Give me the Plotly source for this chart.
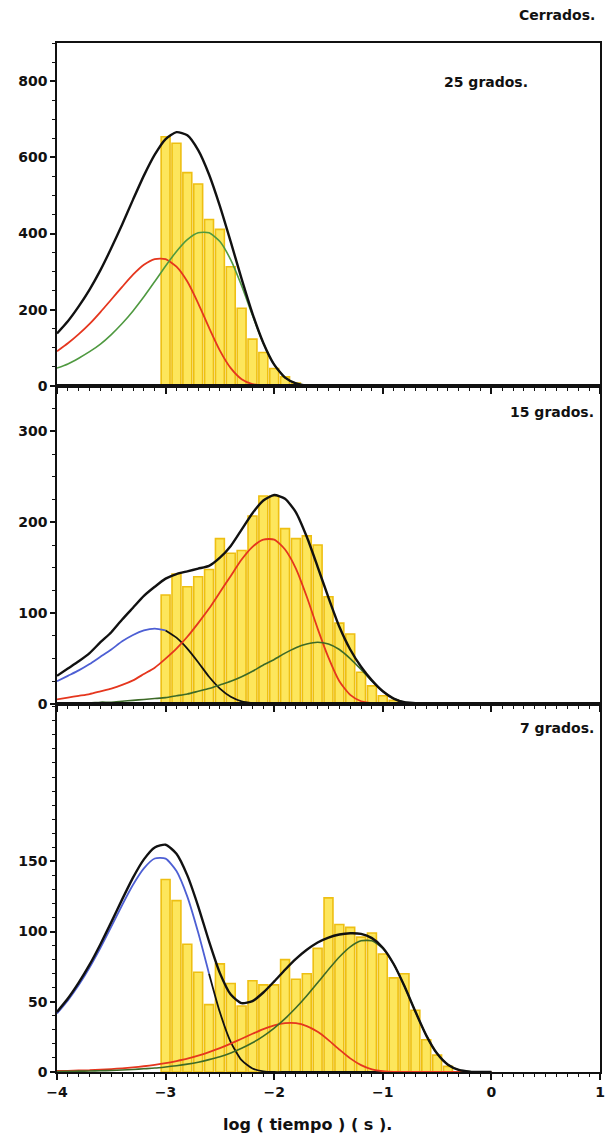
import plotly.graph_objects as go
from plotly.subplots import make_subplots

# ---------------- data ----------------
# sampling grid of the fitted curves, log10(t / s)
x_fit = [-4.0, -3.9, -3.8, -3.7, -3.6, -3.5, -3.4, -3.3, -3.2, -3.1,
         -3.0, -2.9, -2.8, -2.7, -2.6, -2.5, -2.4, -2.3, -2.2, -2.1,
         -2.0, -1.9, -1.8, -1.7, -1.6, -1.5, -1.4, -1.3, -1.2, -1.1,
         -1.0, -0.9, -0.8, -0.7, -0.6, -0.5, -0.4, -0.3, -0.2, -0.1, 0.0]

# 25 grados
bins_25 = [-3.0, -2.9, -2.8, -2.7, -2.6, -2.5, -2.4, -2.3, -2.2, -2.1, -2.0, -1.9, -1.8]
counts_25 = [654, 637, 560, 530, 437, 411, 313, 204, 123, 88, 46, 24, 8]
fit_25_a = [91, 112, 136, 163, 194, 227, 260, 292, 318, 333, 333, 313, 274, 217, 153, 93, 47, 18, 5, 1,
            0, 0, 0, 0, 0, 0, 0, 0, 0, 0, 0, 0, 0, 0, 0, 0, 0, 0, 0, 0, 0]
fit_25_b = [47, 58, 73, 90, 110, 135, 164, 197, 234, 274, 315, 353, 384, 402, 402, 379, 331, 263, 185, 112,
            56, 22, 7, 1, 0, 0, 0, 0, 0, 0, 0, 0, 0, 0, 0, 0, 0, 0, 0, 0, 0]
fit_25_total = [138, 170, 209, 253, 304, 362, 424, 489, 552, 607, 648, 666, 658, 619, 555, 472, 378, 281, 190, 113,
                56, 22, 7, 1, 0, 0, 0, 0, 0, 0, 0, 0, 0, 0, 0, 0, 0, 0, 0, 0, 0]

# 15 grados
bins_15 = [-3.0, -2.9, -2.8, -2.7, -2.6, -2.5, -2.4, -2.3, -2.2, -2.1, -2.0,
           -1.9, -1.8, -1.7, -1.6, -1.5, -1.4, -1.3, -1.2, -1.1, -1.0, -0.9]
counts_15 = [120, 143, 129, 140, 148, 182, 166, 169, 207, 229, 229,
             193, 182, 185, 175, 118, 89, 77, 35, 20, 9, 4]
fit_15_a = [25, 31, 37, 44, 52, 60, 69, 76, 81, 83, 81, 73, 61, 46, 30, 17, 8, 3, 1, 0,
            0, 0, 0, 0, 0, 0, 0, 0, 0, 0, 0, 0, 0, 0, 0, 0, 0, 0, 0, 0, 0]
fit_15_b = [5, 7, 9, 11, 14, 17, 21, 26, 33, 40, 50, 61, 74, 89, 105, 123, 141, 159, 173, 181,
            181, 170, 149, 118, 83, 51, 25, 10, 3, 1, 0, 0, 0, 0, 0, 0, 0, 0, 0, 0, 0]
fit_15_c = [1, 1, 1, 1, 2, 2, 3, 4, 5, 6, 7, 9, 11, 14, 17, 21, 25, 30, 36, 43,
            49, 56, 62, 66, 68, 66, 60, 50, 38, 25, 14, 6, 2, 1, 0, 0, 0, 0, 0, 0, 0]
fit_15_total = [31, 39, 47, 56, 68, 79, 93, 106, 119, 129, 138, 143, 146, 149, 152, 161, 174, 192, 210, 224,
                230, 226, 211, 184, 151, 117, 85, 60, 41, 26, 14, 6, 2, 1, 0, 0, 0, 0, 0, 0, 0]

# 7 grados
bins_7 = [-3.0, -2.9, -2.8, -2.7, -2.6, -2.5, -2.4, -2.3, -2.2, -2.1, -2.0, -1.9, -1.8, -1.7,
          -1.6, -1.5, -1.4, -1.3, -1.2, -1.1, -1.0, -0.9, -0.8, -0.7, -0.6, -0.5, -0.4]
counts_7 = [137, 122, 91, 71, 48, 77, 63, 47, 65, 62, 62, 80, 66, 70,
            88, 124, 105, 103, 96, 99, 84, 67, 70, 44, 23, 12, 4]
fit_7_a = [41.7, 51.0, 61.9, 74.4, 88.4, 103.5, 118.9, 133.3, 145.0, 152.0, 151.9, 143.1, 124.9, 99.3,
           70.0, 42.5, 21.3, 8.4, 2.5, 0.5, 0, 0, 0, 0, 0, 0, 0, 0, 0, 0, 0, 0, 0, 0, 0, 0, 0, 0, 0, 0, 0]
fit_7_b = [0.7, 0.8, 1.1, 1.3, 1.7, 2.1, 2.6, 3.3, 4.1, 5.1, 6.3, 7.8, 9.5, 11.7, 14.2, 17.0, 20.2,
           23.7, 27.2, 30.5, 33.2, 34.8, 34.8, 32.7, 28.6, 22.7, 16.0, 9.7, 4.9, 1.9, 0.6, 0.1,
           0, 0, 0, 0, 0, 0, 0, 0, 0]
fit_7_c = [0.4, 0.5, 0.6, 0.7, 0.9, 1.1, 1.4, 1.8, 2.3, 2.8, 3.6, 4.5, 5.6, 7.0, 8.8, 10.9, 13.6,
           16.9, 20.8, 25.6, 31.3, 38.0, 45.7, 54.3, 63.6, 73.0, 81.9, 89.1, 93.4, 93.4, 87.9,
           76.8, 61.0, 43.0, 26.1, 13.1, 5.2, 1.5, 0.3, 0, 0]
fit_7_total = [42.8, 52.3, 63.6, 76.4, 91.0, 106.7, 122.9, 138.4, 151.4, 159.9, 161.8, 155.4, 140.0,
               118.0, 93.0, 70.4, 55.1, 49.0, 50.5, 56.6, 64.5, 72.8, 80.5, 87.0, 92.2, 95.7, 97.9,
               98.8, 98.3, 95.3, 88.5, 76.9, 61.0, 43.0, 26.1, 13.1, 5.2, 1.5, 0.3, 0, 0]

x_ticks = [-4, -3, -2, -1, 0, 1]
x_ticktext = ["\u22124", "\u22123", "\u22122", "\u22121", "0", "1"]
y_ticks_25 = [0, 200, 400, 600, 800]
y_ticks_15 = [0, 100, 200, 300]
y_ticks_7 = [0, 50, 100, 150]

# ---------------- styling ----------------
BAR_FILL = "#FDE65C"
BAR_EDGE = "#EEBF12"
RED = "#E5361E"
GREEN_LIGHT = "#4F9940"
GREEN_DARK = "#3D6A27"
BLUE = "#4D5FD4"
BLACK = "#111111"
FONT = "DejaVu Sans"

fig = make_subplots(rows=3, cols=1, shared_xaxes=True, vertical_spacing=0,
                    row_heights=[343, 318, 368])


def add_bars(row, centers, counts):
    fig.add_trace(go.Bar(x=centers, y=counts, width=0.082,
                         marker=dict(color=BAR_FILL, line=dict(color=BAR_EDGE, width=1.6)),
                         hoverinfo="skip", showlegend=False), row=row, col=1)


def add_line(row, xs, ys, color, width):
    fig.add_trace(go.Scatter(x=xs, y=ys, mode="lines",
                             line=dict(color=color, width=width, shape="spline", smoothing=0.6),
                             hoverinfo="skip", showlegend=False), row=row, col=1)


def split_line(row, ys, x_split, width):
    # first component: blue up to x_split, black afterwards
    k = x_fit.index(x_split)
    add_line(row, x_fit[:k + 1], ys[:k + 1], BLUE, width)
    add_line(row, x_fit[k:], ys[k:], BLACK, width)


# 25 grados
add_bars(1, bins_25, counts_25)
add_line(1, x_fit, fit_25_a, RED, 1.8)
add_line(1, x_fit, fit_25_b, GREEN_LIGHT, 1.6)
add_line(1, x_fit, fit_25_total, BLACK, 2.4)

# 15 grados
add_bars(2, bins_15, counts_15)
split_line(2, fit_15_a, -3.0, 1.8)
add_line(2, x_fit, fit_15_b, RED, 1.8)
add_line(2, x_fit, fit_15_c, GREEN_DARK, 1.6)
add_line(2, x_fit, fit_15_total, BLACK, 2.4)

# 7 grados
add_bars(3, bins_7, counts_7)
split_line(3, fit_7_a, -2.6, 1.8)
add_line(3, x_fit, fit_7_b, RED, 1.8)
add_line(3, x_fit, fit_7_c, GREEN_DARK, 1.6)
add_line(3, x_fit, fit_7_total, BLACK, 2.4)

tickfont = dict(family=FONT, size=14, color=BLACK, weight="bold")

for r in (1, 2, 3):
    fig.update_xaxes(row=r, col=1, range=[-4, 1], tickvals=x_ticks, ticktext=x_ticktext,
                     showticklabels=(r == 3), ticks="outside", ticklen=6, tickwidth=1.5,
                     tickcolor=BLACK, minor=dict(dtick=0.1, tick0=0, ticks="outside", ticklen=3,
                                                 tickwidth=1.2, tickcolor=BLACK),
                     showline=True, linecolor=BLACK, linewidth=1.8, mirror=True,
                     showgrid=False, zeroline=False, tickfont=tickfont)

y_cfg = {1: ([0, 900], y_ticks_25, 50), 2: ([0, 350], y_ticks_15, 25), 3: ([0, 262], y_ticks_7, 10)}
for r, (rng, vals, minor) in y_cfg.items():
    fig.update_yaxes(row=r, col=1, range=rng, tickvals=vals, ticks="outside",
                     ticklen=5, tickwidth=1.5, tickcolor=BLACK,
                     minor=dict(dtick=minor, tick0=0, ticks="outside", ticklen=3,
                                tickwidth=1.2, tickcolor=BLACK),
                     showline=True, linecolor=BLACK, linewidth=1.5, mirror=True,
                     showgrid=False, zeroline=False, tickfont=tickfont)

label_font = dict(family=FONT, size=14, color=BLACK, weight="bold")
notes = [
    ("Cerrados.", 0.995, 1.027, "right"),
    ("25 grados.", 0.79, 0.962, "center"),
    ("15 grados.", 0.992, 0.641, "right"),
    ("7 grados.", 0.992, 0.334, "right"),
]
for text, xp, yp, anchor in notes:
    fig.add_annotation(text=text, x=xp, y=yp, xref="paper", yref="paper",
                       xanchor=anchor, yanchor="middle", showarrow=False, font=label_font)

fig.add_annotation(text="log ( tiempo ) ( s ).", x=0.462, y=-0.0515, xref="paper", yref="paper",
                   xanchor="center", yanchor="middle", showarrow=False,
                   font=dict(family=FONT, size=16, color=BLACK, weight="bold"))

fig.update_layout(width=609, height=1147, margin=dict(l=57, r=4, t=43, b=75),
                  paper_bgcolor="white", plot_bgcolor="white", barmode="overlay",
                  showlegend=False)

fig.write_html("out.html")
